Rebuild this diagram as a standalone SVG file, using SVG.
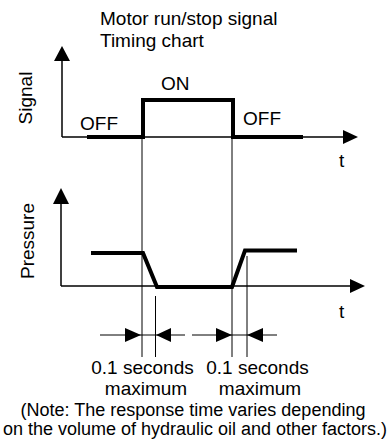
<svg xmlns="http://www.w3.org/2000/svg" width="390" height="445" viewBox="0 0 390 445">
<style>
text{font-family:"Liberation Sans",Arial,sans-serif;font-size:19px;fill:#000}
text.note{font-size:18px}
.axis{stroke:#000;stroke-width:1.5;fill:none}
.thick{stroke:#000;stroke-width:4;fill:none;stroke-linejoin:miter}
.thin{stroke:#000;stroke-width:1;fill:none}
.head{fill:#000}
</style>
<rect width="390" height="445" fill="#fff"/>
<g id="title">
<text x="100" y="25">Motor run/stop signal</text>
<text x="100" y="47">Timing chart</text>
</g>
<g id="signal-chart">
<line class="axis" x1="62" y1="137" x2="62" y2="58"/>
<polygon class="head" points="62,46 54,61 70,61"/>
<line class="axis" x1="62" y1="137" x2="346" y2="137"/>
<polygon class="head" points="358,137 343,130 343,144"/>
<text transform="translate(32,98) rotate(-90)" text-anchor="middle">Signal</text>
<text x="80" y="130">OFF</text>
<text x="161" y="90">ON</text>
<text x="243" y="125">OFF</text>
<text x="339" y="167">t</text>
<path class="thick" d="M87,137 H143 V100 H233 V137 H303"/>
</g>
<g id="pressure-chart">
<line class="axis" x1="61" y1="286" x2="61" y2="200"/>
<polygon class="head" points="61,188 53,204 69,204"/>
<line class="axis" x1="61" y1="286" x2="353" y2="286"/>
<polygon class="head" points="365,286 350,279 350,293"/>
<text transform="translate(34,241) rotate(-90)" text-anchor="middle">Pressure</text>
<text x="339" y="318">t</text>
<path class="thick" d="M91,253 H143 L157,287 H232 L245,250.5 H297"/>
</g>
<g id="connectors">
<line class="thin" x1="142" y1="139" x2="142" y2="357"/>
<line class="thin" x1="232" y1="139" x2="232" y2="357"/>
<line class="thin" x1="155.5" y1="296" x2="155.5" y2="357"/>
<line class="thin" x1="247" y1="256" x2="247" y2="357"/>
<line class="thin" x1="100" y1="335" x2="185" y2="335"/>
<polygon class="head" points="141,335 125,328 125,342"/>
<polygon class="head" points="156,335 171,328 171,342"/>
<line class="thin" x1="192" y1="335" x2="277" y2="335"/>
<polygon class="head" points="232,335 216,328 216,342"/>
<polygon class="head" points="247,335 263,328 263,342"/>
</g>
<g id="labels">
<text x="142.5" y="374" text-anchor="middle">0.1 seconds</text>
<text x="146" y="395" text-anchor="middle">maximum</text>
<text x="257.5" y="374" text-anchor="middle">0.1 seconds</text>
<text x="260" y="395" text-anchor="middle">maximum</text>
<text class="note" x="193" y="416" text-anchor="middle">(Note: The response time varies depending</text>
<text class="note" x="195" y="435" text-anchor="middle">on the volume of hydraulic oil and other factors.)</text>
</g>
</svg>
